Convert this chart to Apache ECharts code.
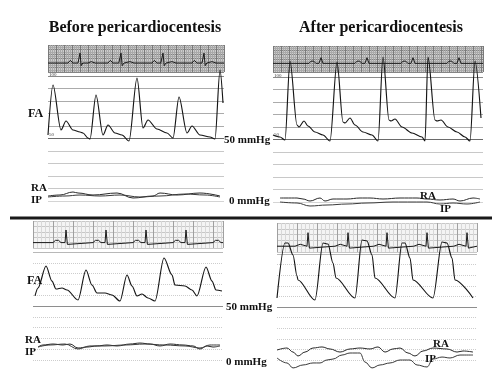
<!DOCTYPE html>
<html><head><meta charset="utf-8">
<script src="https://cdn.jsdelivr.net/npm/echarts@6/dist/echarts.min.js"></script>
<style>html,body{margin:0;padding:0;background:#fff}#c{width:500px;height:378px}</style>
</head><body><div id="c"></div>
<script>
// ---------- DATA (time in s, pressure in mmHg, ECG in mV) ----------
const tlFA = [[0,52.8],[0.125,92.8],[0.325,56.8],[0.45,64],[0.625,56.8],[0.8,55.2],[0.875,54.4],[1.0,50.4],[1.05,49.6],[1.2,84.8],[1.375,52.8],[1.5,60.8],[1.675,54.4],[1.85,52.8],[2.025,48],[2.225,98.4],[2.375,58.4],[2.5,64.8],[2.725,57.6],[2.975,54.4],[3.125,50.4],[3.275,83.2],[3.475,54.4],[3.6,60],[3.8,52.8],[4.05,51.2],[4.175,49.6],[4.3,104.8],[4.375,78.4]];
const tlRA = [[0,4],[0.3,4.8],[0.625,7.2],[0.75,6.4],[1.125,4.8],[1.725,6.4],[2.125,2.4],[2.625,4],[2.8,6.4],[3.225,4.8],[3.8,6.4],[4.3,4]];
const tlIP = [[0,3.2],[0.425,4],[0.8,4.8],[1.3,4],[1.8,4.8],[2.3,3.2],[2.8,4],[3.425,5.6],[3.925,4.8],[4.3,3.2]];
const tlECG = [[0,0],[0.5,0],[0.56,0.3],[0.62,0],[0.75,0],[0.78,-0.15],[0.8,1.1],[0.83,-0.3],[0.87,0],[1.0,0],[1.08,0.15],[1.18,0],[1.5,0],[1.56,0.3],[1.62,0],[1.77,0],[1.8,-0.15],[1.825,1.1],[1.855,-0.3],[1.9,0],[2.05,0.15],[2.15,0],[2.6,0],[2.66,0.3],[2.72,0],[2.82,0],[2.85,-0.15],[2.875,1.1],[2.905,-0.3],[2.95,0],[3.1,0.15],[3.2,0],[3.6,0],[3.66,0.3],[3.72,0],[3.85,0],[3.875,-0.15],[3.9,1.1],[3.93,-0.3],[3.97,0],[4.1,0.15],[4.2,0],[4.4,0]];

const trFA = [[0,53.6],[0.175,52],[0.3,49.6],[0.425,112.8],[0.6,61.6],[0.65,60],[0.775,64.8],[0.875,60.8],[1.05,56],[1.25,53.6],[1.425,48.8],[1.6,112],[1.75,64],[1.8,63.2],[1.925,67.2],[2.05,61.6],[2.25,56],[2.475,53.6],[2.625,48.8],[2.75,116],[2.9,65.6],[2.95,64.8],[3.05,66.4],[3.225,60],[3.475,55.2],[3.725,52],[3.8,48.8],[3.875,116],[4.05,65.6],[4.1,64.8],[4.2,65.6],[4.375,60],[4.6,56],[4.8,52],[4.925,48.8],[5.05,112.8],[5.2,67.2]];
const trRA = [[0.175,3.2],[0.6,3.2],[0.75,2.4],[0.925,0.8],[1.175,3.2],[1.3,0.8],[1.5,2.4],[1.85,2.4],[2.175,3.2],[2.425,3.2],[2.75,2.4],[3.175,3.2],[3.6,3.2],[3.85,2.4],[4.175,1.6],[4.5,2.4],[4.675,0.8],[5.0,3.2],[5.175,2.4]];
const trIP = [[0.175,0],[0.6,-0.8],[0.925,-3.2],[1.35,-2.4],[1.85,-1.6],[2.35,-0.8],[3.0,0],[3.5,0],[3.85,0],[4.175,-1.6],[4.5,-0.8],[4.85,-1.6],[5.175,0]];
const trECG = [[0,0],[0.9,0],[0.95,0.25],[1.02,0.25],[1.07,0],[1.15,0],[1.2,0.65],[1.25,0],[2.05,0],[2.1,0.25],[2.17,0.25],[2.22,0],[2.3,0],[2.35,0.65],[2.4,0],[3.2,0],[3.25,0.25],[3.32,0.25],[3.37,0],[3.45,0],[3.5,0.65],[3.55,0],[4.35,0],[4.4,0.25],[4.47,0.25],[4.52,0],[4.6,0],[4.65,0.65],[4.7,0],[5.25,0]];

const blFA = [[0.05,59.3],[0.125,66.7],[0.325,87],[0.475,73.1],[0.575,65.7],[0.725,66.7],[0.85,64.8],[1.125,55.6],[1.325,83.3],[1.475,69.4],[1.6,62],[1.8,62],[1.975,60.2],[2.175,54.6],[2.35,78.7],[2.475,68.5],[2.6,59.3],[2.725,61.1],[2.875,57.4],[3.05,54.6],[3.275,94.4],[3.475,78.7],[3.55,69.4],[3.8,68.5],[3.975,64.8],[4.1,59.3],[4.325,86.1],[4.475,73.1],[4.575,64.8],[4.725,63.9]];
const blRA = [[0.125,12],[0.25,13.9],[0.5,14.8],[0.75,13.9],[0.925,14.8],[1.125,11.1],[1.35,12],[1.6,13],[1.85,13.9],[2.1,13],[2.425,14.8],[2.675,15.7],[2.925,14.8],[3.175,13],[3.425,14.8],[3.75,13.9],[4.0,13],[4.175,10.2],[4.35,13],[4.5,12],[4.675,13]];
const blIP = [[0.125,12],[0.425,13.9],[0.8,14.8],[1.125,10.2],[1.425,13],[1.8,13],[2.3,13.9],[2.8,14.8],[3.3,13.9],[3.8,13],[4.175,11.1],[4.425,13.9],[4.675,13.9]];
const blECG = [[0,0],[0.5,0],[0.56,0.25],[0.64,0.25],[0.7,0],[0.8,0],[0.825,1.4],[0.86,-0.2],[0.9,0],[1.5,0],[1.56,0.25],[1.64,0.25],[1.7,0],[1.8,0],[1.825,1.4],[1.86,-0.2],[1.9,0],[2.5,0],[2.56,0.25],[2.64,0.25],[2.7,0],[2.8,0],[2.825,1.4],[2.86,-0.2],[2.9,0],[3.5,0],[3.56,0.25],[3.64,0.25],[3.7,0],[3.8,0],[3.825,1.4],[3.86,-0.2],[3.9,0],[4.5,0],[4.56,0.25],[4.64,0.25],[4.7,0],[4.75,0]];

const brFA = [[0,58.5],[0.2,110.4],[0.275,110.4],[0.4,99.1],[0.5,79.2],[0.525,75.5],[0.95,56.6],[1.15,110.4],[1.275,109.4],[1.4,91.5],[1.475,77.4],[1.95,58.5],[2.125,113.2],[2.25,112.3],[2.375,99.1],[2.45,77.4],[2.95,58.5],[3.125,110.4],[3.2,110.4],[3.325,96.2],[3.4,75.5],[3.9,58.5],[4.125,111.3],[4.25,110.4],[4.375,96.2],[4.45,75.5],[4.9,58.5]];
const brRA = [[0,9.4],[0.25,11.3],[0.4,7.5],[0.525,3.8],[0.7,7.5],[0.9,11.3],[1.125,12.3],[1.325,10.4],[1.575,7.5],[1.825,10.4],[2.075,11.3],[2.325,10.4],[2.525,12.3],[2.7,7.5],[2.9,10.4],[3.075,11.3],[3.275,6.6],[3.45,3.8],[3.65,8.5],[3.9,11.3],[4.25,10.4],[4.5,7.5],[4.65,8.5],[4.9,7.5]];
const brIP = [[0,1.9],[0.25,-2.8],[0.4,-7.5],[0.65,-4.7],[0.9,-2.8],[1.075,-2.8],[1.25,0],[1.4,0.9],[1.625,4.7],[1.825,6.6],[2.075,6.6],[2.2,-1.9],[2.375,-7.5],[2.575,-4.7],[2.825,-2.8],[3.075,0],[3.325,0],[3.5,-4.7],[3.75,-6.6],[3.9,0.9],[4.125,2.8],[4.325,1.9],[4.575,4.7],[4.9,4.7]];
const brECG = [[0,0],[0.45,0],[0.5,0.2],[0.58,0.2],[0.63,0],[0.75,0],[0.775,1.4],[0.81,-0.2],[0.85,0],[1.45,0],[1.5,0.2],[1.58,0.2],[1.63,0],[1.75,0],[1.775,1.4],[1.81,-0.2],[1.85,0],[2.42,0],[2.47,0.2],[2.55,0.2],[2.6,0],[2.725,0],[2.75,1.4],[2.785,-0.2],[2.83,0],[3.42,0],[3.47,0.2],[3.55,0.2],[3.6,0],[3.725,0],[3.75,1.4],[3.785,-0.2],[3.83,0],[4.42,0],[4.47,0.2],[4.55,0.2],[4.6,0],[4.725,0],[4.75,1.4],[4.785,-0.2],[4.83,0],[5.0,0]];

const pressureTicks = [0, 50, 100]; // mmHg range & reference lines
const titles = ['Before pericardiocentesis', 'After pericardiocentesis'];

// ---------- LAYOUT ----------
const panels = [
  {ecg:{left:48,top:45,width:176,height:27}, fa:{left:48,top:76,width:176,height:125}, T:4.4, dark:true, d:[tlECG,tlFA,tlRA,tlIP]},
  {ecg:{left:273,top:46,width:210,height:26}, fa:{left:273,top:77,width:210,height:125}, T:5.25, dark:true, d:[trECG,trFA,trRA,trIP]},
  {ecg:{left:33,top:221,width:190,height:27}, fa:{left:33,top:252,width:190,height:108}, T:4.75, dark:false, d:[blECG,blFA,blRA,blIP]},
  {ecg:{left:277,top:223,width:200,height:29}, fa:{left:277,top:254,width:200,height:106}, T:5.0, dark:false, d:[brECG,brFA,brRA,brIP]}
];
const topLineColors = ['#d4d4d4','#c8c8c8','#c8c8c8','#c8c8c8','#c8c8c8','#6a6a6a','#ababab','#ababab','#ababab','#ababab','#8a8a8a'];

const grids=[], xAxes=[], yAxes=[], series=[];
const off = {axisLine:{show:false}, axisTick:{show:false}, axisLabel:{show:false}};
panels.forEach((p,i)=>{
  const ge=2*i, gf=2*i+1;
  grids.push(Object.assign({show:true, backgroundColor:p.dark?'#cdcdcd':'#f4f4f4', borderWidth:0}, p.ecg));
  grids.push(Object.assign({show:false}, p.fa));
  xAxes.push(Object.assign({gridIndex:ge, type:'value', min:0, max:p.T, interval:p.dark?0.2:0.5,
    splitLine:{show:true, lineStyle:{color:p.dark?'#7a7a7a':'#a0a0a0', width:1}},
    minorTick:{show:false, splitNumber:p.dark?4:5},
    minorSplitLine:{show:true, lineStyle:{color:p.dark?'#a9a9a9':'#d8d8d8', width:1}}}, off));
  yAxes.push(Object.assign({gridIndex:ge, type:'value', min:p.dark?-1:-0.6, max:p.dark?2:2.4, interval:p.dark?0.5:0.6,
    splitLine:{show:true, lineStyle:{color:p.dark?'#858585':'#c8c8c8', width:1}},
    minorTick:{show:false, splitNumber:2},
    minorSplitLine:{show:p.dark, lineStyle:{color:'#ababab', width:1}}}, off));
  xAxes.push({gridIndex:gf, type:'value', min:0, max:p.T, show:false});
  yAxes.push(Object.assign({gridIndex:gf, type:'value', min:pressureTicks[0], max:pressureTicks[2], interval:10,
    splitLine:{show:true, lineStyle: p.dark ? {color:topLineColors, type:'solid', width:1} : {color:'#cdcdcd', type:'dotted', width:1}}}, off));
  const base = {type:'line', symbol:'none', silent:true, animation:false};
  series.push(Object.assign({}, base, {xAxisIndex:ge, yAxisIndex:ge, data:p.d[0], z:3, lineStyle:{color:'#1a1a1a', width:1}}));
  const ra = Object.assign({}, base, {xAxisIndex:gf, yAxisIndex:gf, data:p.d[2], smooth:0.4, smoothMonotone:'x', clip:false, z:4, lineStyle:{color:'#2a2a2a', width:1}});
  if (!p.dark) {
    ra.markLine = {silent:true, symbol:['none','none'], label:{show:false}, animation:false,
      data:[{yAxis:pressureTicks[1], lineStyle:{color:'#8e8e8e', type:'solid', width:1}},
            {yAxis:pressureTicks[2], lineStyle:{color:'#b8b8b8', type:'solid', width:1}}]};
  }
  series.push(ra);
  series.push(Object.assign({}, base, {xAxisIndex:gf, yAxisIndex:gf, data:p.d[3], smooth:0.4, smoothMonotone:'x', clip:false, z:4, lineStyle:{color:'#3a3a3a', width:1}}));
  series.push(Object.assign({}, base, {xAxisIndex:gf, yAxisIndex:gf, data:p.d[1], smooth:0.3, smoothMonotone:'x', clip:false, z:5, lineStyle:{color:'#151515', width:1.15}}));
});

const serif = '"Liberation Serif","Times New Roman",serif';
function txt(text, x, y, size, align, weight, color){
  align = align || 'left';
  return {type:'text', x:x, y:y, z:20, silent:true,
    style:{text:text, font:(weight||'bold')+' '+size+'px '+serif, fill:color||'#111',
      align:align, verticalAlign:'middle', textAlign:align, textVerticalAlign:'middle'}};
}
const graphic = [
  {type:'line', z:20, silent:true, shape:{x1:10,y1:218,x2:492,y2:218}, style:{stroke:'#1a1a1a', lineWidth:3}},
  txt(titles[0], 135, 28, 16, 'center'),
  txt(titles[1], 381, 28, 16, 'center'),
  txt('FA', 28, 114, 12), txt('RA', 31, 188, 11), txt('IP', 31, 200, 11),
  txt('50 mmHg', 224, 140, 11), txt('0 mmHg', 229, 201, 11),
  txt('RA', 420, 196, 11), txt('IP', 440, 209, 11),
  txt('FA', 27, 281, 12), txt('RA', 25, 340, 11), txt('IP', 25, 352, 11),
  txt('50 mmHg', 226, 307, 11), txt('0 mmHg', 226, 362, 11),
  txt('RA', 433, 344, 11), txt('IP', 425, 359, 11),
  txt('100', 49, 75, 5, 'left', 'normal', '#444'), txt('50', 49, 135, 5, 'left', 'normal', '#444'),
  txt('100', 274, 76, 5, 'left', 'normal', '#444'), txt('50', 274, 135, 5, 'left', 'normal', '#444')
];

const chart = echarts.init(document.getElementById('c'), null, {renderer:'canvas'});
chart.setOption({animation:false, backgroundColor:'#fff', grid:grids, xAxis:xAxes, yAxis:yAxes, series:series, graphic:graphic});
</script></body></html>
